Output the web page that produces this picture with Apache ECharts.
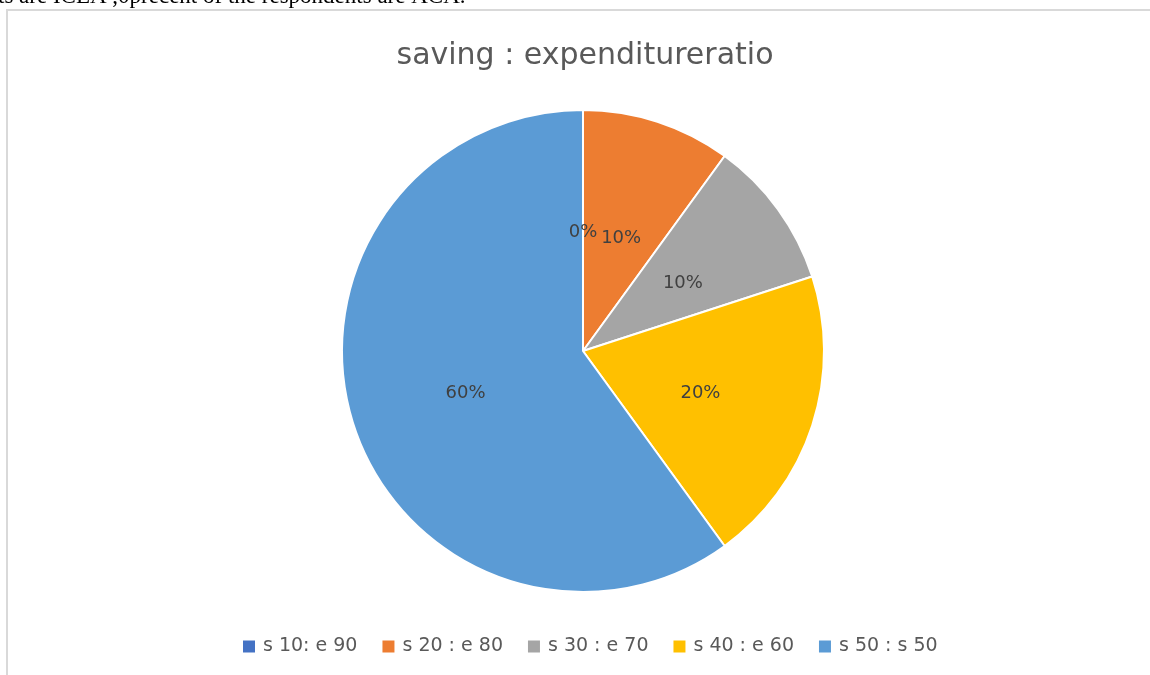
<!DOCTYPE html>
<html>
<head>
<meta charset="utf-8">
<script src="https://cdn.jsdelivr.net/npm/echarts@6/dist/echarts.min.js"></script>
<style>
  html, body { margin: 0; padding: 0; background: #fff; }
  #chart { width: 1150px; height: 675px; }
</style>
</head>
<body>
<div id="chart"></div>
<script>
// Ratio groups (saving : expenditure) and share of respondents
const categories = ['s 10: e 90', 's 20 : e 80', 's 30 : e 70', 's 40 : e 60', 's 50 : s 50'];
const shares = [0, 10, 10, 20, 60];
const sliceColors = ['#4472C4', '#ED7D31', '#A5A5A5', '#FFC000', '#5B9BD5'];
const chartTitle = 'saving : expenditureratio';
const leadText = 'ts are ICEA ,0precent of the respondents are ACA.';

const total = shares.reduce((a, b) => a + b, 0);
const pieData = categories.map((name, i) => ({
  name: name,
  value: shares[i],
  itemStyle: { color: sliceColors[i] }
}));

const chart = echarts.init(document.getElementById('chart'), null, { renderer: 'canvas' });
chart.setOption({
  backgroundColor: '#ffffff',
  animation: false,
  title: {
    text: chartTitle,
    left: 580,
    textAlign: 'center',
    top: 36,
    textStyle: {
      fontFamily: 'DejaVu Sans',
      fontSize: 30,
      fontWeight: 'normal',
      color: '#595959'
    }
  },
  graphic: [
    {
      type: 'rect',
      shape: { x: 7, y: 10, width: 1160, height: 690 },
      style: { fill: 'none', stroke: '#d9d9d9', lineWidth: 2 },
      silent: true
    },
    {
      type: 'text',
      style: {
        x: -2,
        y: 8,
        text: leadText,
        verticalAlign: 'bottom',
        font: '23px "Liberation Serif"',
        fill: '#000000'
      },
      silent: true
    }
  ],
  legend: {
    data: categories,
    left: 238,
    top: 632,
    icon: 'rect',
    itemWidth: 12,
    itemHeight: 12,
    itemGap: 25,
    selectedMode: false,
    itemStyle: { borderWidth: 0 },
    textStyle: {
      fontFamily: 'DejaVu Sans',
      fontSize: 19,
      color: '#595959',
      padding: [0, 0, 0, 3]
    }
  },
  series: [
    {
      type: 'pie',
      center: [583, 351],
      radius: [0, 241],
      startAngle: 90,
      clockwise: true,
      avoidLabelOverlap: false,
      itemStyle: { borderColor: '#ffffff', borderWidth: 2 },
      label: {
        show: true,
        position: 'inside',
        fontFamily: 'DejaVu Sans',
        fontSize: 18,
        color: '#404040',
        formatter: p => '{v|' + Math.round(p.value / total * 100) + '%}',
        rich: {
          v: {
            fontFamily: 'DejaVu Sans',
            fontSize: 18,
            color: '#404040',
            padding: [9, 0, 0, 0]
          }
        }
      },
      labelLine: { show: false },
      emphasis: { disabled: true },
      data: pieData
    }
  ]
});
</script>
</body>
</html>
